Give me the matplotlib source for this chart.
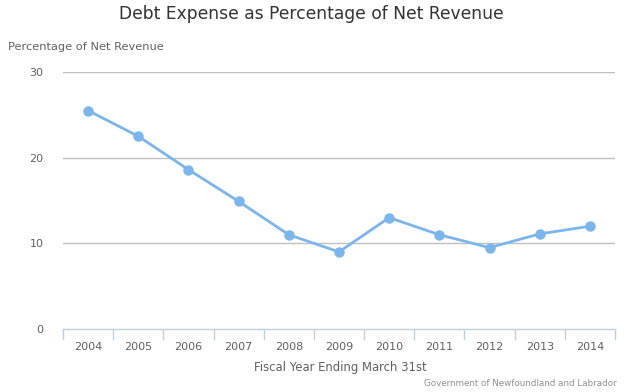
import matplotlib
matplotlib.use("Agg")
import matplotlib.pyplot as plt

# Debt expense as % of net revenue, fiscal years ending March 31st
years = ["2004", "2005", "2006", "2007", "2008", "2009",
         "2010", "2011", "2012", "2013", "2014"]
debt_pct = [25.5, 22.5, 18.6, 14.9, 11.0, 9.0, 13.0, 11.0, 9.5, 11.1, 12.0]
y_ticks = [0, 10, 20, 30]

line_color = "#7cb5ec"
text_color = "#606060"

fig = plt.figure(figsize=(6.27, 3.92), dpi=100)
ax = fig.add_axes([63 / 627, 1 - 329 / 392, 552 / 627, 257 / 392])

x = list(range(len(years)))
ax.plot(x, debt_pct, color=line_color, linewidth=2, marker="o",
        markersize=6.5, zorder=3, clip_on=False)

ax.set_xlim(-0.5, len(years) - 0.5)
ax.set_ylim(0, 30)
ax.set_yticks(y_ticks)
ax.set_xticks(x)
ax.set_xticklabels(years)

# grid lines
for v in y_ticks[1:]:
    ax.axhline(v, color="#c0c0c0", linewidth=1, zorder=1)

for s in ["top", "right", "left"]:
    ax.spines[s].set_visible(False)
ax.spines["bottom"].set_color("#c0d0e0")
ax.spines["bottom"].set_linewidth(1)

ax.tick_params(axis="y", length=0, pad=14, labelsize=8, labelcolor=text_color)
ax.tick_params(axis="x", length=0, pad=9, labelsize=8, labelcolor=text_color)

# tick marks between categories
for b in range(len(years) + 1):
    ax.plot([b - 0.5, b - 0.5], [0, -1.15], color="#c0d0e0", linewidth=1,
            clip_on=False, zorder=2)

fig.text(311 / 627, 1 - 14 / 392, "Debt Expense as Percentage of Net Revenue",
         ha="center", va="center", fontsize=12.3, color="#333333")
fig.text(8 / 627, 1 - 47 / 392, "Percentage of Net Revenue",
         ha="left", va="center", fontsize=8.2, color=text_color)
fig.text(340 / 627, 1 - 367 / 392, "Fiscal Year Ending March 31st",
         ha="center", va="center", fontsize=8.4, color=text_color)
fig.text(617 / 627, 1 - 383 / 392, "Government of Newfoundland and Labrador",
         ha="right", va="center", fontsize=6.3, color="#909090")

fig.savefig("out.png", dpi=100)
